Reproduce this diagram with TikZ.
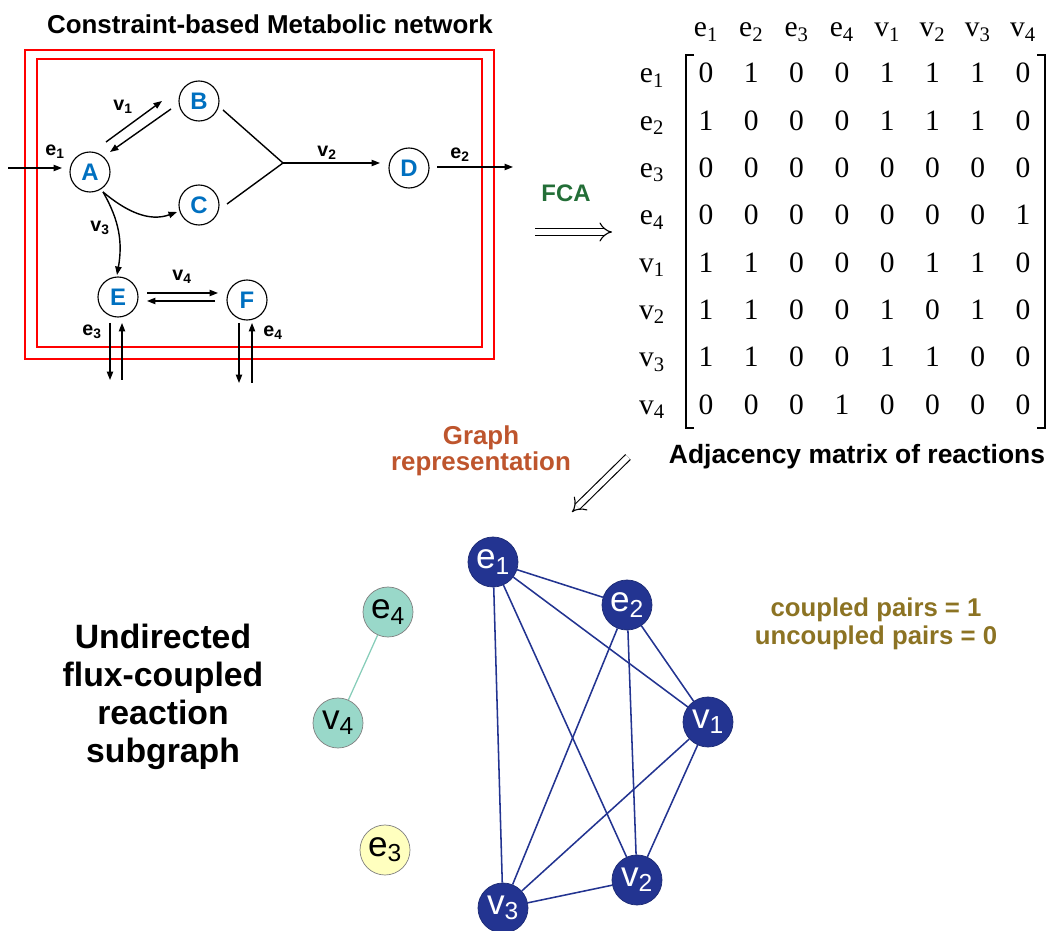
\documentclass[tikz,border=0pt]{standalone}
\usepackage{fontspec}
\setsansfont{Liberation Sans}
\newfontfamily\timesfont{Liberation Serif}
\usetikzlibrary{arrows.meta,calc}
\definecolor{metblue}{RGB}{0,112,192}
\definecolor{fcagreen}{RGB}{35,110,55}
\definecolor{rust}{RGB}{190,85,45}
\definecolor{olive}{RGB}{140,115,35}
\definecolor{navy}{RGB}{35,52,145}
\definecolor{mint}{RGB}{153,216,201}
\definecolor{mintline}{RGB}{135,205,185}
\definecolor{cream}{RGB}{255,255,191}

\begin{document}
\begin{tikzpicture}[x=0.025cm,y=-0.025cm,
  font=\sffamily\bfseries,
  met/.style={circle,draw,line width=0.8pt,minimum size=1cm,inner sep=0pt,
              text=metblue,font=\sffamily\bfseries\fontsize{17}{17}\selectfont},
  rx/.style={-{Triangle[length=6pt,width=4.5pt]},line width=1pt},
  lab/.style={font=\sffamily\bfseries\fontsize{14}{14}\selectfont},
  ttl/.style={font=\sffamily\bfseries\fontsize{18.4}{18.4}\selectfont,align=center},
  ent/.style={anchor=base,font=\timesfont\fontsize{21}{21}\selectfont},
  gnode/.style={circle,minimum size=1.25cm,inner sep=0pt,line width=0.5pt,
                font=\sffamily\fontsize{25}{25}\selectfont},
  hub/.style={gnode,fill=navy,draw=navy!80!black,text=white},
  leaf/.style={gnode,draw=gray},
  gedge/.style={draw=navy,line width=1.1pt},
  dbl/.style={double,double distance=4pt,line width=0.8pt,-{Implies}}]

\useasboundingbox (0,0) rectangle (1052,931);

% metabolic network
\node[ttl] (title) at (270,24) {Constraint-based Metabolic network};
\draw[red,line width=0.9pt] (25,50) rectangle (494,359);
\draw[red,line width=0.9pt] (37,59) rectangle (482,347);

\node[met] (A) at (90,172) {A};
\node[met] (B) at (199,101) {B};
\node[met] (C) at (199,205) {C};
\node[met] (D) at (409,168) {D};
\node[met] (E) at (118,297) {E};
\node[met] (F) at (247,300) {F};

\coordinate (e1in) at (8,168);
\coordinate (e2out) at (513,167);
\coordinate (hub) at (283,163);

\draw[rx] (e1in) -- ([shift={(-28,-4)}]A.center);
\draw[rx] ([shift={(16,-30)}]A.center) -- ([shift={(-37,0)}]B.center);
\draw[rx] ([shift={(-28,8)}]B.center) -- ([shift={(20,-20)}]A.center);
\draw[line width=1pt] ([shift={(24,9)}]B.center) -- (hub);
\draw[line width=1pt] ([shift={(28,-1)}]C.center) -- (hub);
\draw[rx] (hub) -- ([shift={(-29,-5)}]D.center);
\draw[rx] ([shift={(28,-1)}]D.center) -- (e2out);
\draw[rx] ([shift={(13,20)}]A.center) to[out=-40,in=200] ([shift={(-22,7)}]C.center);
\draw[rx] ([shift={(13,20)}]A.center) to[out=-60,in=80] ([shift={(-1,-22)}]E.center);
\draw[rx] ([shift={(29,-4)}]E.center) -- ([shift={(-29,-7)}]F.center);
\draw[rx] ([shift={(-32,1)}]F.center) -- ([shift={(29,4)}]E.center);
\draw[rx] ([shift={(-8,26)}]E.center) -- ([shift={(-8,83)}]E.center);
\draw[rx] ([shift={(4,83)}]E.center) -- ([shift={(4,26)}]E.center);
\draw[rx] ([shift={(-8,23)}]F.center) -- ([shift={(-8,83)}]F.center);
\draw[rx] ([shift={(5,83)}]F.center) -- ([shift={(5,23)}]F.center);

\node[lab] (le1) at (55,152) {e\textsubscript{1}};
\node[lab] (le2) at (460,155) {e\textsubscript{2}};
\node[lab] (le3) at (92,332) {e\textsubscript{3}};
\node[lab] (le4) at (273,333) {e\textsubscript{4}};
\node[lab] (lv1) at (123,107) {v\textsubscript{1}};
\node[lab] (lv2) at (327,153) {v\textsubscript{2}};
\node[lab] (lv3) at (100,228) {v\textsubscript{3}};
\node[lab] (lv4) at (182,277) {v\textsubscript{4}};

% FCA step
\node[text=fcagreen,font=\sffamily\bfseries\fontsize{17}{17}\selectfont] (fca) at (566,193) {FCA};
\coordinate (fcaL) at (535,232);
\coordinate (fcaR) at (612,232);
\draw[dbl] (fcaL) -- (fcaR);

% adjacency matrix
\foreach \nm/\sb [count=\i] in {e/1,e/2,e/3,e/4,v/1,v/2,v/3,v/4}{
  \node[ent] (col\i) at ({706+45.3*(\i-1)},37) {\nm\textsubscript{\sb}};
  \node[ent] (row\i) at (652,{83+47.3*(\i-1)}) {\nm\textsubscript{\sb}};
}
\foreach \vals [count=\r] in {{0,1,0,0,1,1,1,0},{1,0,0,0,1,1,1,0},
                              {0,0,0,0,0,0,0,0},{0,0,0,0,0,0,0,1},
                              {1,1,0,0,0,1,1,0},{1,1,0,0,1,0,1,0},
                              {1,1,0,0,1,1,0,0},{0,0,0,1,0,0,0,0}}
  \foreach \v [count=\c] in \vals
    \node[ent] (m\r-\c) at ({706+45.3*(\c-1)},{83+47.3*(\r-1)}) {\v};
\draw[line width=0.9pt] (694,55) -- (686,55) -- (686,428) -- (694,428);
\draw[line width=0.9pt] (1037,55) -- (1045,55) -- (1045,428) -- (1037,428);
\node[ttl,font=\sffamily\bfseries\fontsize{18.8}{19}\selectfont] (adjcap) at (857,457) {Adjacency matrix of reactions};

% graph step
\node[ttl,text=rust] (grep) at (481,451) {Graph\\representation};
\coordinate (gTop) at (628,457);
\coordinate (gTip) at (572,512);
\draw[dbl] (gTop) -- (gTip);

% coupling subgraph
\node[font=\sffamily\bfseries\fontsize{24}{27}\selectfont,align=center] (sub) at (163,697)
  {Undirected\\flux-coupled\\reaction\\subgraph};
\node[hub] (ge1) at (493,562) {e\textsubscript{1}};
\node[hub] (ge2) at (627,605) {e\textsubscript{2}};
\node[hub] (gv1) at (708,722) {v\textsubscript{1}};
\node[hub] (gv2) at (637,880) {v\textsubscript{2}};
\node[hub] (gv3) at (503,908) {v\textsubscript{3}};
\foreach \a/\b in {ge1/ge2,ge1/gv1,ge1/gv2,ge1/gv3,ge2/gv1,ge2/gv2,ge2/gv3,gv1/gv2,gv1/gv3,gv2/gv3}
  \draw[gedge] (\a) -- (\b);
\node[leaf,fill=mint] (ge4) at (388,612) {e\textsubscript{4}};
\node[leaf,fill=mint] (gv4) at (338,723) {v\textsubscript{4}};
\draw[mintline,line width=0.9pt] (ge4) -- (gv4);
\node[leaf,fill=cream] (ge3) at (385,850) {e\textsubscript{3}};

\node[text=olive,align=center,font=\sffamily\bfseries\fontsize{18.3}{19.8}\selectfont] (pairs) at (876,624)
  {coupled pairs = 1\\uncoupled pairs = 0};
\end{tikzpicture}
\end{document}
